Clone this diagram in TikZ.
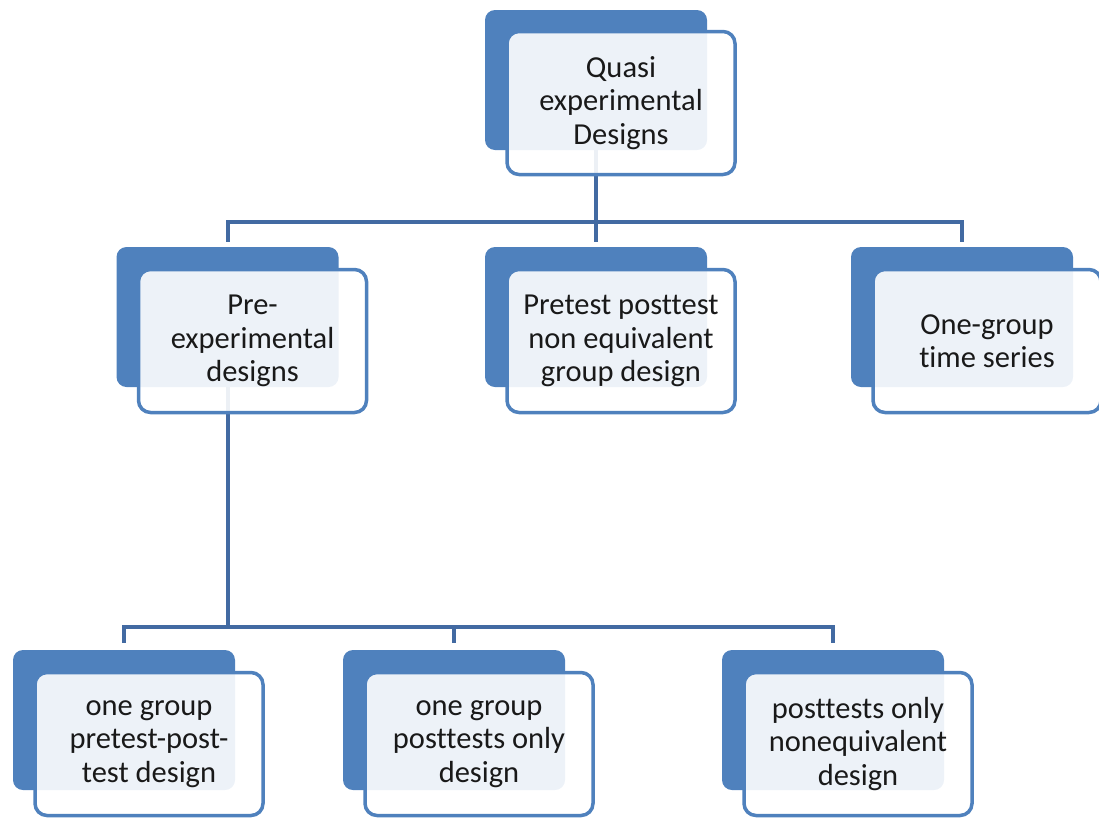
\documentclass[tikz,border=0pt]{standalone}
\usepackage{fontspec}
\setmainfont{Carlito}[Ligatures={NoCommon}]
\usepackage{xcolor}
\usepackage{tikz}
\usetikzlibrary{positioning, calc}

\definecolor{boxblue}{RGB}{79,129,189}
\definecolor{lineblue}{RGB}{66,106,162}

\begin{document}
\begin{tikzpicture}[
    x=1pt, y=-1pt,
    backbox/.style={fill=boxblue, rounded corners=10pt, minimum width=222pt, minimum height=140pt, inner sep=0pt},
    frontbox/.style={draw=boxblue, line width=3.5pt, fill=white, fill opacity=0.9, text opacity=1, rounded corners=12pt,
        minimum width=228pt, minimum height=143pt, align=center, text=black!90, font=\fontsize{30.5}{33.5}\selectfont},
    link/.style={draw=lineblue, line width=4pt}
]
    \useasboundingbox (0,0) rectangle (1099,817);

    % Back plates
    \node[backbox] (quasiback) at (596,80) {};
    \node[backbox] (preback) at (227.5,317) {};
    \node[backbox] (pretestback) at (596,317) {};
    \node[backbox] (seriesback) at (962,317) {};
    \node[backbox] (prepostback) at (124,720) {};
    \node[backbox] (postonlyback) at (454,720) {};
    \node[backbox] (noneqback) at (833,720) {};

    % Connectors
    \coordinate (bustop) at (596,222);
    \coordinate (buslow) at (227.5,627);
    \draw[link] (quasiback.south) -- (bustop);
    \draw[link, shorten >=5pt] (bustop) -| (preback.north);
    \draw[link, shorten >=5pt] (bustop) -- (pretestback.north);
    \draw[link, shorten >=5pt] (bustop) -| (seriesback.north);
    \draw[link] (preback.south) -- (buslow);
    \draw[link, shorten >=7pt] (buslow) -| (prepostback.north);
    \draw[link, shorten >=7pt] (buslow) -| (postonlyback.north);
    \draw[link, shorten >=7pt] (buslow) -| (noneqback.north);

    % Front cards
    \node[frontbox] (quasi) at ($(quasiback)+(25,23)$) {Quasi\\experimental\\Designs};
    \node[frontbox] (pre) at ($(preback)+(25,24)$) {Pre-\\experimental\\designs};
    \node[frontbox] (pretest) at ($(pretestback)+(25,24)$) {Pretest posttest\\non equivalent\\group design};
    \node[frontbox] (series) at ($(seriesback)+(25,24)$) {One-group\\time series};
    \node[frontbox] (prepost) at ($(prepostback)+(25,24)$) {one group\\pretest-post-\\test design};
    \node[frontbox] (postonly) at ($(postonlyback)+(25,24)$) {one group\\posttests only\\design};
    \node[frontbox] (noneq) at ($(noneqback)+(25,24)$) {posttests only\\nonequivalent\\design};
\end{tikzpicture}
\end{document}
